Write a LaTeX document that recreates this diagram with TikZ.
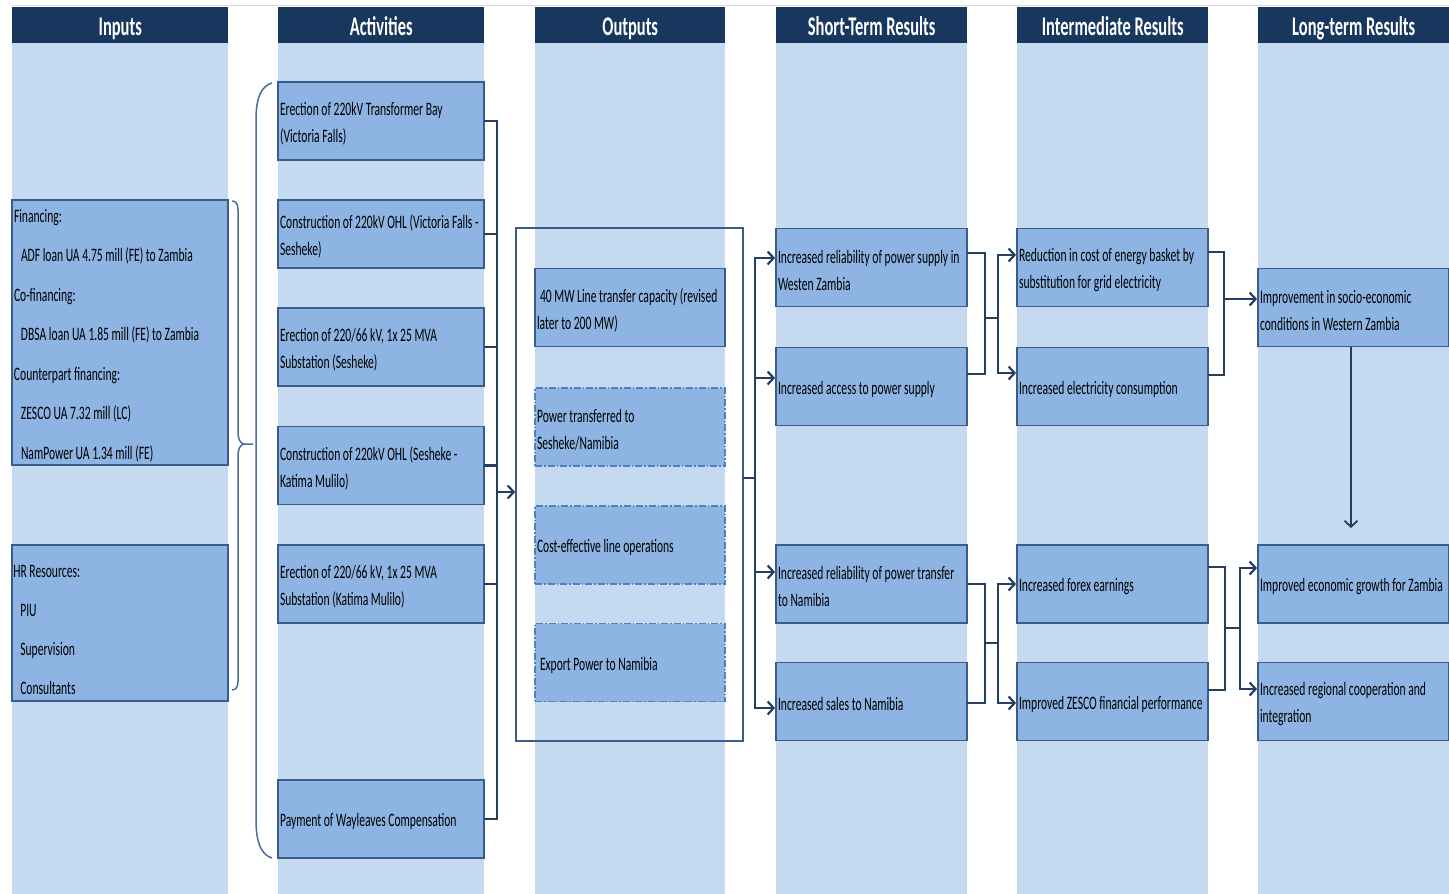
\documentclass[tikz,border=0pt]{standalone}
\usepackage{fontspec}
\setmainfont{Carlito}[FakeStretch=0.61]
\usepackage{xcolor}
\usetikzlibrary{arrows.meta, positioning}
\definecolor{hdrblue}{HTML}{17375E}
\definecolor{colblue}{HTML}{C5D9F1}
\definecolor{boxblue}{HTML}{8DB4E2}
\definecolor{boxline}{HTML}{385D8A}
\definecolor{linkblue}{HTML}{243F60}
\definecolor{dashline}{HTML}{4F81BD}
\definecolor{braceblue}{HTML}{4A6C9B}
\hyphenpenalty=10000
\exhyphenpenalty=10000
\tikzset{
    colhead/.style={fill=hdrblue, text=white, minimum height=36pt, inner sep=0pt, text height=20pt, text depth=0pt, font=\fontsize{27}{32}\selectfont\bfseries}, % column titles
    box/.style={draw=boxline, line width=1.8pt, fill=boxblue, minimum height=78pt, text width=#1, align=flush left, inner xsep=2pt, inner ysep=0pt, font=\fontsize{19}{27}\selectfont, execute at begin node=\rule{0pt}{19pt}}, % result boxes
    dbox/.style={box=#1, draw=dashline, line width=1.1pt, dash pattern=on 7pt off 2pt on 1.5pt off 2pt}, % dash-dot output boxes
    link/.style={draw=linkblue, line width=2.2pt, line cap=rect}, % plain connector
    arrow/.style={link, -{Straight Barb[length=6pt,width=13pt]}}, % connector with open head
    bracket/.style={draw=braceblue, line width=1.5pt},
}
\begin{document}
\begin{tikzpicture}[x=1pt, y=-1pt]
\useasboundingbox (0,0) rectangle (1449,894);
\draw[gray!30, line width=0.8pt] (12,5) -- (1449,5);

% columns and titles
\foreach \x/\w/\t in {12/216/Inputs, 278/206/Activities, 535/190/Outputs, 776/191/Short-Term Results, 1017/191/Intermediate Results, 1258/191/Long-term Results}{
    \fill[colblue] (\x,43) rectangle ++(\w,851);
    \node[colhead, minimum width=\w pt, anchor=north west] (hd\x) at (\x,7) {\t};
}

% inputs
\node[box=212pt, minimum height=265pt, font=\fontsize{19}{39.5}\selectfont] (fin) at (120,332.5) {Financing:\\
    \hspace*{7pt}ADF loan UA 4.75 mill (FE) to Zambia\\
    Co-financing:\\
    \hspace*{7pt}DBSA loan UA 1.85 mill (FE) to Zambia\\
    Counterpart financing:\\
    \hspace*{7pt}ZESCO UA 7.32 mill (LC)\\
    \hspace*{7pt}NamPower UA 1.34 mill (FE)};
\node[box=212pt, minimum height=156pt] (hr) at (120,623) {};
\node[anchor=west, text width=212pt, align=flush left, inner sep=0pt, font=\fontsize{19}{39}\selectfont] (hrtext) at ([xshift=2pt, yshift=-7pt]hr.west) {HR Resources:\\
    \hspace*{7pt}PIU\\
    \hspace*{7pt}Supervision\\
    \hspace*{7pt}Consultants};

% braces
\draw[bracket] (232,201) .. controls (236,201) and (238,204) .. (238,210) -- (238,432)
    .. controls (238,439) and (240,443) .. (244,444) -- (253,444);
\draw[bracket] (244,444) .. controls (240,445) and (238,449) .. (238,456) -- (238,681)
    .. controls (238,687) and (236,690) .. (232,690);
\draw[bracket] (272,83) .. controls (262,86) and (256,96) .. (256,120) -- (256,820)
    .. controls (256,844) and (262,855) .. (272,858);

% activities
\node[box=202pt] (act1) at (381,121) {Erection of 220kV Transformer Bay\\(Victoria Falls)};
\node[box=202pt, minimum height=68pt] (act2) at (381,234) {Construction of 220kV OHL (Victoria Falls -\\Sesheke)};
\node[box=202pt] (act3) at (381,347) {Erection of 220/66 kV, 1x 25 MVA\\Substation (Sesheke)};
\node[box=202pt] (act4) at (381,465.5) {Construction of 220kV OHL (Sesheke -\\Katima Mulilo)};
\node[box=202pt] (act5) at (381,584) {Erection of 220/66 kV, 1x 25 MVA\\Substation (Katima Mulilo)};
\node[box=202pt] (act6) at (381,819) {Payment of Wayleaves Compensation};

% outputs
\node[draw=boxline, line width=1.6pt, minimum width=227pt, minimum height=513pt, inner sep=0pt] (outframe) at (629.5,484.5) {};
\node[box=186pt] (out1) at (630,307.5) {\hspace*{3pt}40 MW Line transfer capacity (revised\\later to 200 MW)};
\node[dbox=186pt] (out2) at (630,427) {Power transferred to\\Sesheke/Namibia};
\node[dbox=186pt] (out3) at (630,545) {Cost-effective line operations};
\node[dbox=186pt] (out4) at (630,662.5) {\hspace*{3pt}Export Power to Namibia};

% short-term results
\node[box=187pt] (st1) at (871.5,267.5) {Increased reliability of power supply in\\Westen Zambia};
\node[box=187pt] (st2) at (871.5,386.5) {Increased access to power supply};
\node[box=187pt] (st3) at (871.5,584) {Increased reliability of power transfer\\to Namibia};
\node[box=187pt] (st4) at (871.5,701.5) {Increased sales to Namibia};

% intermediate results
\node[box=187pt] (ir1) at (1112.5,267.5) {Reduction in cost of energy basket by\\substitution for grid electricity};
\node[box=187pt] (ir2) at (1112.5,386.5) {Increased electricity consumption};
\node[box=187pt] (ir3) at (1112.5,584) {Increased forex earnings};
\node[box=187pt] (ir4) at (1112.5,701.5) {Improved ZESCO financial performance};

% long-term results
\node[box=187pt] (lt1) at (1353.5,307.5) {Improvement in socio-economic\\conditions in Western Zambia};
\node[box=187pt] (lt2) at (1353.5,584) {Improved economic growth for Zambia};
\node[box=187pt] (lt3) at (1353.5,701.5) {Increased regional cooperation and\\integration};

% activities -> outputs
\coordinate (abus) at (497,0);
\foreach \n in {1,...,6}
    \draw[link] (act\n.east) -- (act\n.east -| abus);
\draw[link] (act1.east -| abus) -- (act6.east -| abus);
\coordinate (framein) at ([yshift=-7.5pt]outframe.west);
\draw[arrow] (framein -| abus) -- (framein);

% outputs -> short-term
\coordinate (obus) at (755,0);
\coordinate (frameout) at ([yshift=6.5pt]outframe.east);
\draw[link] (frameout) -- (frameout -| obus);
\coordinate (st1in) at ([yshift=9.5pt]st1.west);
\coordinate (st2in) at ([yshift=8.5pt]st2.west);
\coordinate (st3in) at ([yshift=12pt]st3.west);
\coordinate (st4in) at ([yshift=-6.5pt]st4.west);
\draw[link] (st1in -| obus) -- (st4in -| obus);
\foreach \n in {1,...,4}
    \draw[arrow] (st\n in -| obus) -- (st\n in);

% short-term -> intermediate
\coordinate (sbus) at (985,0);
\coordinate (ibus) at (998,0);
\draw[link] ([yshift=14.5pt]st1.east) -| (sbus |- 0,318) |- ([yshift=12.5pt]st2.east);
\draw[link] (985,318) -- (998,318);
\coordinate (ir1in) at ([yshift=12.5pt]ir1.west);
\coordinate (ir2in) at ([yshift=13.5pt]ir2.west);
\draw[link] (ir1in -| ibus) -- (ir2in -| ibus);
\draw[arrow] (ir1in -| ibus) -- (ir1in);
\draw[arrow] (ir2in -| ibus) -- (ir2in);

\draw[link] (st3.east) -| (sbus |- 0,643) |- ([yshift=-1.5pt]st4.east);
\draw[link] (985,643) -- (998,643);
\coordinate (ir3in) at (ir3.west);
\coordinate (ir4in) at ([yshift=-1.5pt]ir4.west);
\draw[link] (ir3in -| ibus) -- (ir4in -| ibus);
\draw[arrow] (ir3in -| ibus) -- (ir3in);
\draw[arrow] (ir4in -| ibus) -- (ir4in);

% intermediate -> long-term
\draw[link] ([yshift=15.5pt]ir1.east) -- (1224,252) -- (1224,375) -- ([yshift=11.5pt]ir2.east);
\coordinate (lt1in) at ([yshift=8.5pt]lt1.west);
\draw[arrow] (lt1in -| 1224,0) -- (lt1in);
\draw[link] ([yshift=17pt]ir3.east) -- (1225,567) -- (1225,690) -- ([yshift=11.5pt]ir4.east);
\draw[link] (1225,628) -- (1240,628);
\coordinate (lt2in) at ([yshift=16pt]lt2.west);
\coordinate (lt3in) at ([yshift=12.5pt]lt3.west);
\draw[link] (1240,568) -- (1240,689);
\draw[arrow] (lt2in -| 1240,0) -- (lt2in);
\draw[arrow] (lt3in -| 1240,0) -- (lt3in);

% long-term down
\coordinate (ltdown) at (1351,528);
\draw[arrow, line width=1.8pt] (lt1.south -| ltdown) -- (ltdown);
\end{tikzpicture}
\end{document}
